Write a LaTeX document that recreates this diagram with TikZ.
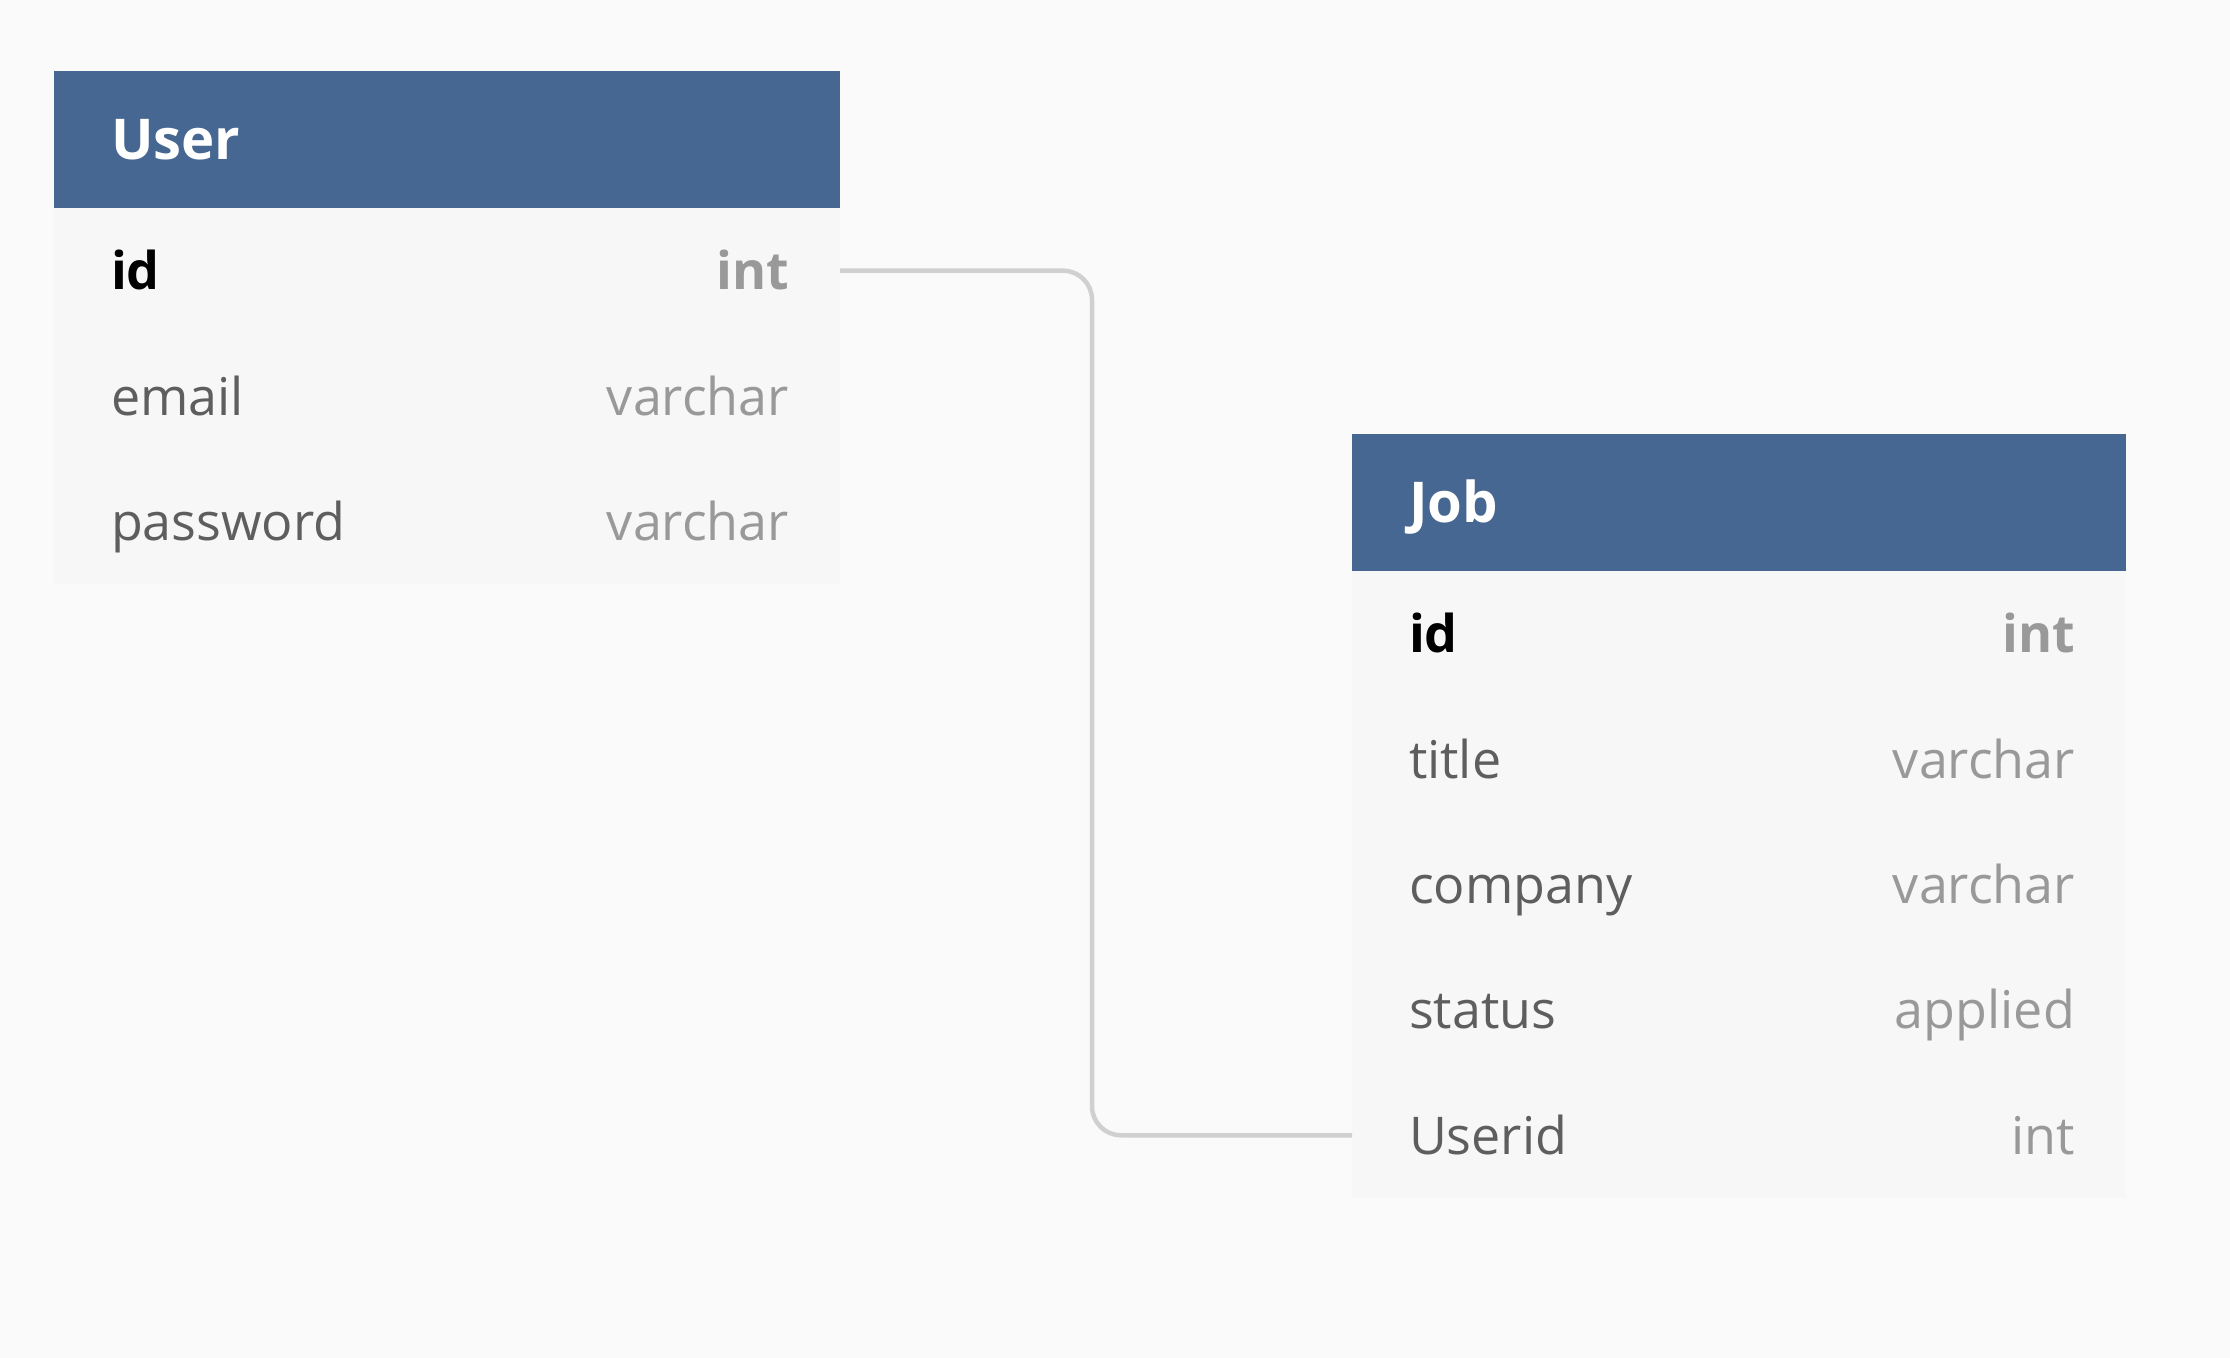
\documentclass[tikz,border=0pt]{standalone}
\usepackage{fontspec}
\setmainfont{Open Sans}
\usetikzlibrary{positioning}

\definecolor{hdblue}{HTML}{466791}
\definecolor{rowbg}{HTML}{F7F7F7}
\definecolor{pagebg}{HTML}{FAFAFA}
\definecolor{fname}{HTML}{5E5E5E}
\definecolor{ftype}{HTML}{999999}
\definecolor{linkgray}{HTML}{D0D0D0}

\newcommand{\fld}[2]{\textcolor{fname}{#1}\hfill\textcolor{ftype}{#2}}
\newcommand{\keyfld}[2]{\textbf{#1}\hfill\textcolor{ftype}{\textbf{#2}}}

\begin{document}
\begin{tikzpicture}[
  tab/.style={rectangle, inner xsep=0.51cm, inner ysep=0pt, outer sep=0pt, execute at begin node=\hspace*{0.06cm}},
  hd/.style={tab, fill=hdblue, text=white, minimum height=1.37cm, text height=0.45cm, text depth=0.04cm, font=\fontsize{16}{19}\selectfont\bfseries},
  row/.style={tab, fill=rowbg, minimum height=1.254cm, text height=0.50cm, text depth=0.12cm, font=\fontsize{14.8}{17}\selectfont},
]
\fill[pagebg] (0,0) rectangle (22.30,13.58);
%User table:
\begin{scope}[every node/.append style={text width=6.84cm}]
\node (uhead) [hd, anchor=north west] at (0.54,12.87) {User};
\node (uid) [row, below=0pt of uhead] {\keyfld{id}{int}};
\node (uemail) [row, below=0pt of uid] {\fld{email}{varchar}};
\node (upass) [row, below=0pt of uemail] {\fld{password}{varchar}};
\end{scope}
%Job table:
\begin{scope}[every node/.append style={text width=6.72cm}]
\node (jhead) [hd, anchor=north west] at (13.52,9.24) {Job};
\node (jid) [row, below=0pt of jhead] {\keyfld{id}{int}};
\node (jtitle) [row, below=0pt of jid] {\fld{title}{varchar}};
\node (jcompany) [row, below=0pt of jtitle] {\fld{company}{varchar}};
\node (jstatus) [row, below=0pt of jcompany] {\fld{status}{applied}};
\node (juserid) [row, below=0pt of jstatus] {\fld{Userid}{int}};
\end{scope}
%Reference:
\draw [linkgray, line width=0.045cm, rounded corners=0.29cm]
(uid.east) -- ++(2.52,0) |- (juserid.west);
\end{tikzpicture}
\end{document}
